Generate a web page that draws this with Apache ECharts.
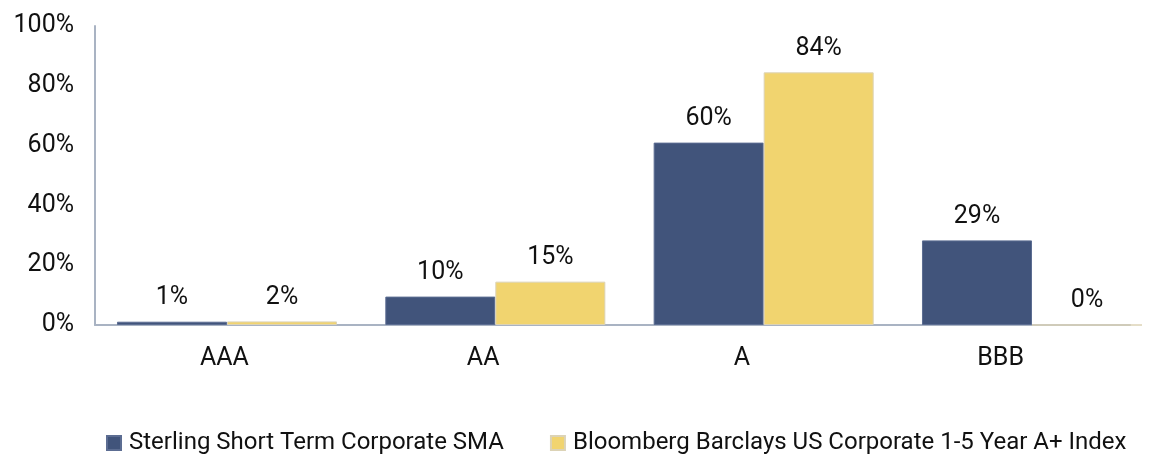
<!DOCTYPE html>
<html><head><meta charset="utf-8">
<script src="https://cdn.jsdelivr.net/npm/echarts@6/dist/echarts.min.js"></script>
<style>html,body{margin:0;padding:0;background:#fff}#c{width:1149px;height:457px}</style>
</head><body><div id="c"></div>
<script>
const categories = ['AAA', 'AA', 'A', 'BBB'];
const seriesNames = ['Sterling Short Term Corporate SMA', 'Bloomberg Barclays US Corporate 1-5 Year A+ Index'];
const sterling = [1.1, 9.5, 61, 28.3];
const bloomberg = [1.2, 14.5, 84.5, 0];
const labelsSterling = ['1%', '10%', '60%', '29%'];
const labelsBloomberg = ['2%', '15%', '84%', '0%'];
const yTicks = [0, 20, 40, 60, 80, 100];
const colors = ['#41547B', '#F1D46F'];
const FONT = 'Roboto';

const chart = echarts.init(document.getElementById('c'), null, {renderer: 'canvas'});
function mk(name, data, labels, color, border) {
  return {
    name, type: 'bar', data, xAxisIndex: 1, yAxisIndex: 1, clip: false,
    barGap: '0%', barCategoryGap: '18%',
    itemStyle: {color, borderColor: border, borderWidth: 1},
    label: {show: true, position: 'top', distance: 11, color: '#111', fontFamily: FONT, fontSize: 25,
      formatter: p => labels[p.dataIndex]},
    emphasis: {disabled: true}
  };
}
chart.setOption({
  animation: false,
  textStyle: {fontFamily: FONT},
  grid: [
    {left: 95, right: 19, top: 26, bottom: 132, containLabel: false},
    {left: 227, right: 117, top: 26, bottom: 132, containLabel: false}
  ],
  legend: {
    left: 101, top: 426, itemWidth: 14, itemHeight: 14, itemGap: 46, icon: 'rect',
    textStyle: {fontFamily: FONT, fontSize: 24, color: '#111', padding: [0, 0, 0, 3]},
    data: seriesNames
  },
  xAxis: [{
    type: 'category', data: categories, gridIndex: 0,
    axisLine: {lineStyle: {color: '#A9B3C3', width: 2}},
    axisTick: {show: false},
    axisLabel: {color: '#111', fontFamily: FONT, fontSize: 25, margin: 21}
  }, {
    type: 'category', data: categories, gridIndex: 1, show: false, boundaryGap: false
  }],
  yAxis: [{
    type: 'value', min: 0, max: 100, interval: 20, gridIndex: 0,
    axisLine: {show: true, lineStyle: {color: '#A9B3C3', width: 2}},
    axisTick: {show: false},
    splitLine: {show: false},
    axisLabel: {color: '#111', fontFamily: FONT, fontSize: 25, margin: 21,
      customValues: yTicks, formatter: v => v + '%'}
  }, {
    type: 'value', min: 0, max: 100, gridIndex: 1, show: false, splitLine: {show: false}
  }],
  series: [
    mk(seriesNames[0], sterling, labelsSterling, colors[0], '#5C6D92'),
    mk(seriesNames[1], bloomberg, labelsBloomberg, colors[1], '#DCD3B6')
  ]
});
</script></body></html>
